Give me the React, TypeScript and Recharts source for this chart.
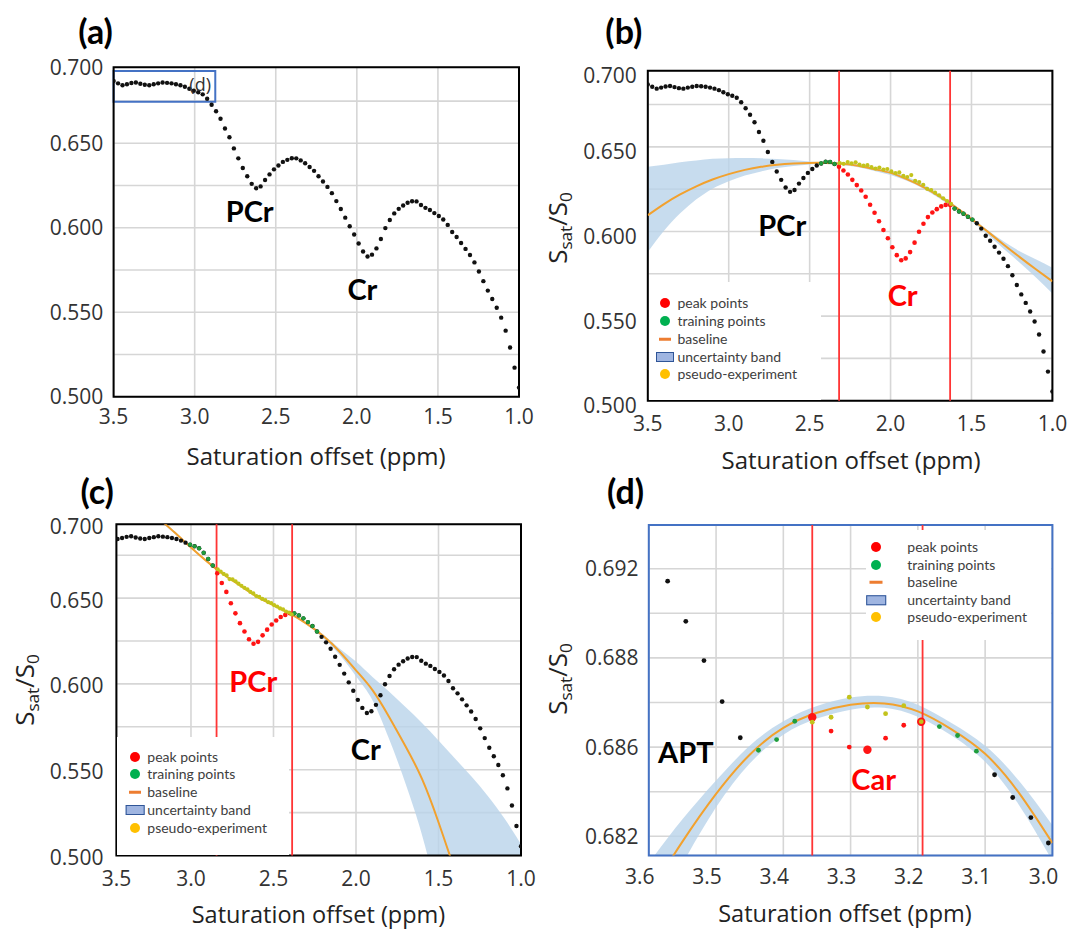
import React from 'react';
import {
  ComposedChart,
  Scatter,
  Line,
  Area,
  XAxis,
  YAxis,
  CartesianGrid,
  ReferenceLine,
  ReferenceArea,
} from 'recharts';

// ======================= DATA =======================
// measured spectrum: offsets evenly spaced from 3.5 ppm down to 1.0 ppm
const OFFSET_FIRST = 3.5;
const OFFSET_LAST = 1.0;
// normalised signal S_sat/S_0 (black dots), one value per offset
const SIGNAL = [
  0.6869, 0.6855, 0.6844, 0.685, 0.6857, 0.686, 0.6853, 0.6847, 0.6844, 0.685,
  0.6855, 0.686, 0.6858, 0.6855, 0.685, 0.6844, 0.6835, 0.6823, 0.6811, 0.6802,
  0.679, 0.6764, 0.6728, 0.669, 0.6645, 0.6588, 0.6536, 0.647, 0.6411, 0.6354,
  0.6305, 0.626, 0.6234, 0.6245, 0.6283, 0.6316, 0.6346, 0.6369, 0.639, 0.6402,
  0.6412, 0.6411, 0.6399, 0.6382, 0.636, 0.6337, 0.6305, 0.6274, 0.6242, 0.6205,
  0.6158, 0.6111, 0.606, 0.6009, 0.596, 0.5907, 0.586, 0.583, 0.5841, 0.5878,
  0.5934, 0.5998, 0.6046, 0.6085, 0.6112, 0.6132, 0.6148, 0.6157, 0.6156, 0.6135,
  0.6118, 0.6105, 0.6087, 0.607, 0.6049, 0.6017, 0.5975, 0.5945, 0.591, 0.5875,
  0.5839, 0.5795, 0.5741, 0.5684, 0.5628, 0.5578, 0.5527, 0.5468, 0.5391, 0.5291,
  0.5172, 0.5054,
];

const X_TICKS = [3.5, 3.0, 2.5, 2.0, 1.5, 1.0];
const X_TICKS_C = [3.452, 3.0, 2.5, 2.0, 1.5, 1.0];
const X_TICK_LABELS = ['3.5', '3.0', '2.5', '2.0', '1.5', '1.0'];
const Y_TICKS_AB = [0.5, 0.525, 0.55, 0.575, 0.6, 0.625, 0.65, 0.675, 0.695];
const Y_TICKS_C = [0.5, 0.525, 0.55, 0.575, 0.6, 0.625, 0.65, 0.675, 0.693];
const Y_TICK_LABELS = ['0.500', '', '0.550', '', '0.600', '', '0.650', '', '0.700'];

// panel (a): inset marking the zoomed region of panel (d)
const A_INSET = { x1: 3.5, x2: 2.873, y1: 0.6746, y2: 0.6928 };

// panel (b): Cr peak
const B_PEAK_RANGE = [43, 68];
const B_TRAIN_RANGES = [[39, 42], [69, 73]];
const B_PEAK_EDGES = [2.318, 1.632];
const B_FIT_X = [3.5, 3.4, 3.3, 3.2, 3.1, 3.0, 2.9, 2.8, 2.7, 2.6, 2.5, 2.4, 2.3, 2.2, 2.1, 2.0, 1.9, 1.8, 1.7, 1.6, 1.5, 1.4, 1.3, 1.2, 1.1, 1.0];
const B_FIT = [0.6096, 0.6162, 0.6219, 0.6267, 0.6307, 0.6339, 0.6364, 0.6382, 0.6394, 0.6401, 0.6405, 0.6405, 0.64, 0.6388, 0.6368, 0.6346, 0.6309, 0.6264, 0.6209, 0.6145, 0.6074, 0.5999, 0.5922, 0.5847, 0.5775, 0.5705];
const B_BAND_LO = [0.5878, 0.6004, 0.6107, 0.619, 0.6253, 0.6297, 0.6331, 0.6355, 0.6375, 0.6387, 0.6396, 0.6398, 0.6392, 0.638, 0.6358, 0.6334, 0.6299, 0.6254, 0.6196, 0.6131, 0.606, 0.598, 0.5897, 0.5814, 0.5726, 0.5634];
const B_BAND_HI = [0.6382, 0.6394, 0.6409, 0.6419, 0.6429, 0.6433, 0.6434, 0.6432, 0.6428, 0.6422, 0.6414, 0.641, 0.6407, 0.6397, 0.6378, 0.6357, 0.6324, 0.6281, 0.6222, 0.6154, 0.6081, 0.6009, 0.5941, 0.5882, 0.5834, 0.5785];
const B_PSEUDO_X = [2.314, 2.29, 2.265, 2.241, 2.216, 2.192, 2.167, 2.143, 2.118, 2.093, 2.069, 2.044, 2.02, 1.995, 1.97, 1.946, 1.921, 1.897, 1.872, 1.848, 1.823, 1.798, 1.774, 1.749, 1.725, 1.7, 1.675, 1.651, 1.626];
const B_PSEUDO = [0.6404, 0.64, 0.641, 0.6402, 0.6409, 0.6395, 0.6389, 0.6392, 0.638, 0.6372, 0.6378, 0.6366, 0.6369, 0.6355, 0.6345, 0.6349, 0.6328, 0.6322, 0.6333, 0.6299, 0.6292, 0.6276, 0.6252, 0.6245, 0.6229, 0.6214, 0.6196, 0.618, 0.6163];

// panel (c): PCr peak
const C_PEAK_RANGE = [24, 40];
const C_TRAIN_RANGES = [[18, 23], [41, 46]];
const C_PEAK_EDGES = [2.845, 2.387];
const C_FIT_X = [3.3, 3.2, 3.1, 3.0, 2.9, 2.8, 2.7, 2.6, 2.5, 2.4, 2.3, 2.2, 2.1, 2.0, 1.9, 1.8, 1.7, 1.6, 1.5, 1.4];
const C_FIT = [0.7055, 0.6968, 0.6883, 0.6795, 0.6711, 0.6636, 0.6572, 0.6508, 0.6458, 0.6409, 0.6351, 0.628, 0.6189, 0.6079, 0.5964, 0.5809, 0.5637, 0.5446, 0.5194, 0.491];
const C_BAND_X = [3.3, 3.2, 3.1, 3.0, 2.9, 2.8, 2.7, 2.6, 2.5, 2.4, 2.3, 2.2, 2.1, 2.0, 1.9, 1.8, 1.7, 1.6, 1.5, 1.4, 1.3, 1.2, 1.1, 1.0];
const C_BAND_LO = [0.7045, 0.696, 0.6876, 0.6789, 0.6706, 0.6631, 0.6567, 0.6503, 0.6453, 0.6404, 0.6344, 0.6268, 0.617, 0.6045, 0.5905, 0.568, 0.542, 0.512, 0.474, 0.43, 0.38, 0.33, 0.28, 0.23];
const C_BAND_HI = [0.7065, 0.6976, 0.689, 0.6801, 0.6716, 0.6641, 0.6577, 0.6513, 0.6463, 0.6414, 0.6357, 0.629, 0.6206, 0.613, 0.604, 0.5955, 0.5865, 0.5772, 0.567, 0.5565, 0.546, 0.5345, 0.5215, 0.5065];
const C_PSEUDO_X = [2.838, 2.82, 2.802, 2.784, 2.766, 2.748, 2.73, 2.712, 2.694, 2.676, 2.658, 2.64, 2.622, 2.604, 2.586, 2.568, 2.55, 2.532, 2.514, 2.496, 2.478, 2.46, 2.442, 2.424, 2.406, 2.39];
const C_PSEUDO = [0.6668, 0.6655, 0.6641, 0.6632, 0.6611, 0.6609, 0.6598, 0.6584, 0.6572, 0.656, 0.6551, 0.6536, 0.6527, 0.6512, 0.6507, 0.6495, 0.6489, 0.6476, 0.6471, 0.6459, 0.6451, 0.644, 0.6434, 0.6422, 0.6416, 0.6405];

// panel (d): Car peak (zoom)
const D_OFFSETS = [3.572, 3.545, 3.518, 3.491, 3.464, 3.437, 3.41, 3.383, 3.357, 3.329, 3.302, 3.275, 3.248, 3.221, 3.195, 3.168, 3.141, 3.113, 3.086, 3.059, 3.032, 3.006];
const D_SIGNAL = [0.68972, 0.68882, 0.68794, 0.68702, 0.68621, 0.68593, 0.68617, 0.68658, 0.68667, 0.68636, 0.686, 0.68594, 0.6862, 0.68649, 0.68657, 0.68646, 0.68626, 0.68591, 0.68538, 0.68487, 0.68442, 0.68385];
const D_PEAK_RANGE = [8, 14];
const D_PEAK_BIG = [8, 11, 14];
const D_TRAIN_RANGES = [[5, 7], [15, 17]];
const D_PEAK_EDGES = [3.357, 3.193];
const D_PSEUDO_X = [3.357, 3.329, 3.302, 3.275, 3.248, 3.221, 3.195];
const D_PSEUDO = [0.68656, 0.68667, 0.68712, 0.6869, 0.68675, 0.68693, 0.68657];
const D_FIT_X = [3.6, 3.55, 3.5, 3.45, 3.4, 3.35, 3.3, 3.25, 3.2, 3.15, 3.1, 3.05, 3.0];
const D_FIT = [0.6827, 0.68388, 0.68495, 0.68583, 0.68643, 0.68677, 0.68695, 0.68698, 0.6868, 0.6864, 0.68585, 0.68498, 0.68385];
const D_BAND_LO = [0.682, 0.68338, 0.68465, 0.68563, 0.68628, 0.68664, 0.68684, 0.68688, 0.68668, 0.68626, 0.68567, 0.68471, 0.68345];
const D_BAND_HI = [0.6834, 0.68438, 0.68525, 0.68603, 0.68658, 0.68692, 0.68711, 0.68714, 0.68695, 0.68654, 0.68603, 0.68525, 0.68425];
const D_X_TICKS = [3.6, 3.5, 3.4, 3.3, 3.2, 3.1, 3.0];
const D_X_LABELS = ['3.6', '3.5', '3.4', '3.3', '3.2', '3.1', '3.0'];
const D_Y_TICKS = [0.684, 0.685, 0.686, 0.687, 0.688, 0.689, 0.69];
const D_Y_LABELS = ['0.682', '', '0.686', '', '0.688', '', '0.692'];

const LEGEND_LABELS = ['peak points', 'training points', 'baseline', 'uncertainty band', 'pseudo-experiment'];

// ======================= STYLE =======================
const W = 1070;
const H = 932;
const YW = 100;
const XH = 40;
const TICK_FONT = "'Open Sans', 'DejaVu Sans', sans-serif";
const LABEL_FONT = "Lato, 'Open Sans', sans-serif";
const PEAK = '#ff1414';
const TRAIN = '#1f9e3c';
const PSEUDO = '#c3c31c';
const BASE = '#f2a12e';
const BAND = '#b9d3ea';
const EDGE = '#ff3535';
const GRID = '#d6d6d6';
const LEGEND_COLORS = ['#ff0000', '#00b050', '#ed7d31', '#9fb5e1', '#ffc000'];

// ======================= HELPERS =======================
const N = SIGNAL.length;
const spectrum = SIGNAL.map((y, i) => ({ x: OFFSET_FIRST - (i * (OFFSET_FIRST - OFFSET_LAST)) / (N - 1), y }));
const inR = (i: number, r: number[]) => i >= r[0] && i <= r[1];
const inAny = (i: number, rs: number[][]) => rs.some((r) => inR(i, r));
const zip = (xs: number[], ys: number[]) => xs.map((x, i) => ({ x, y: ys[i] }));
const fitRows = (xs: number[], ys: number[] | null, lo: number[], hi: number[]) =>
  xs.map((x, i) => ({ x, y: ys ? ys[i] : null, band: [lo[i], hi[i]] }));

const aAll = spectrum;
const bBlack = spectrum.filter((_, i) => !inR(i, B_PEAK_RANGE));
const bRed = spectrum.filter((_, i) => inR(i, B_PEAK_RANGE));
const bTrain = spectrum.filter((_, i) => inAny(i, B_TRAIN_RANGES));
const bFit = fitRows(B_FIT_X, B_FIT, B_BAND_LO, B_BAND_HI);
const bPseudo = zip(B_PSEUDO_X, B_PSEUDO);

const cBlack = spectrum.filter((_, i) => !inR(i, C_PEAK_RANGE));
const cRed = spectrum.filter((_, i) => inR(i, C_PEAK_RANGE));
const cTrain = spectrum.filter((_, i) => inAny(i, C_TRAIN_RANGES));
const cFit = zip(C_FIT_X, C_FIT);
const cBand = fitRows(C_BAND_X, null, C_BAND_LO, C_BAND_HI);
const cPseudo = zip(C_PSEUDO_X, C_PSEUDO);

const dPts = zip(D_OFFSETS, D_SIGNAL);
const dBlack = dPts.filter((_, i) => !inR(i, D_PEAK_RANGE) && !inAny(i, D_TRAIN_RANGES));
const dTrain = dPts.filter((_, i) => inAny(i, D_TRAIN_RANGES));
const dRedSmall = dPts.filter((_, i) => inR(i, D_PEAK_RANGE) && !D_PEAK_BIG.includes(i));
const dRedBig = dPts.filter((_, i) => D_PEAK_BIG.includes(i));
const dFit = fitRows(D_FIT_X, D_FIT, D_BAND_LO, D_BAND_HI);
const dPseudo = zip(D_PSEUDO_X, D_PSEUDO);

const dot = (r: number, fill: string) => (p: any) =>
  p.cx == null || p.cy == null ? <g /> : <circle cx={p.cx} cy={p.cy} r={r} fill={fill} />;

const labelOf = (ticks: number[], labels: string[], v: number) => {
  const i = ticks.findIndex((t) => Math.abs(t - v) < 1e-7);
  return i >= 0 ? labels[i] : '';
};

const makeXTick = (ticks: number[], labels: string[], dx: number) => (p: any) => (
  <text x={p.x + dx} y={p.y} dy="0.71em" textAnchor="middle" fontFamily={TICK_FONT} fontSize={21} fill="#333">
    {labelOf(ticks, labels, p.payload.value)}
  </text>
);
const makeYTick = (ticks: number[], labels: string[], dy: number) => (p: any) => (
  <text x={p.x} y={p.y + dy} dy="0.36em" textAnchor="end" fontFamily={TICK_FONT} fontSize={21} fill="#333">
    {labelOf(ticks, labels, p.payload.value)}
  </text>
);

type Box = { l: number; r: number; t: number; b: number };

function Panel(props: {
  box: Box;
  xDomain: [number, number];
  yDomain: [number, number];
  xTicks: number[];
  xLabels: string[];
  yTicks: number[];
  yLabels: string[];
  xMargin: number;
  yMargin: number;
  xDx?: number;
  yDy?: number;
  frame: string;
  children: React.ReactNode;
}) {
  const { box, xDomain, yDomain, xTicks, xLabels, yTicks, yLabels, xMargin, yMargin, xDx = 0, yDy = 0, frame, children } = props;
  const margin = { left: box.l - YW, right: W - box.r, top: box.t, bottom: H - box.b - XH };
  return (
    <div style={{ position: 'absolute', left: 0, top: 0 }}>
      <ComposedChart width={W} height={H} margin={margin}>
        <CartesianGrid stroke={GRID} strokeWidth={1.6} />
        <XAxis
          type="number"
          dataKey="x"
          domain={xDomain}
          reversed
          ticks={xTicks}
          interval={0}
          allowDataOverflow
          axisLine={false}
          tickLine={false}
          tickSize={6}
          tickMargin={xMargin}
          height={XH}
          tick={makeXTick(xTicks, xLabels, xDx)}
        />
        <YAxis
          type="number"
          dataKey="y"
          domain={yDomain}
          ticks={yTicks}
          interval={0}
          allowDataOverflow
          axisLine={false}
          tickLine={false}
          tickSize={6}
          tickMargin={yMargin}
          width={YW}
          tick={makeYTick(yTicks, yLabels, yDy)}
        />
        {children}
        <ReferenceArea
          x1={xDomain[0]}
          x2={xDomain[1]}
          y1={yDomain[0]}
          y2={yDomain[1]}
          fill="#ffffff"
          fillOpacity={0}
          stroke={frame}
          strokeWidth={2}
          ifOverflow="visible"
        />
      </ComposedChart>
    </div>
  );
}

function Txt(p: { x: number; y: number; size: number; bold?: boolean; color?: string; font?: string; rotate?: boolean; children: React.ReactNode }) {
  return (
    <div
      style={{
        position: 'absolute',
        left: p.x,
        top: p.y,
        transform: `translate(-50%, -50%)${p.rotate ? ' rotate(-90deg)' : ''}`,
        fontSize: p.size,
        fontWeight: p.bold ? 700 : 400,
        color: p.color || '#000',
        fontFamily: p.font || LABEL_FONT,
        lineHeight: 1,
        whiteSpace: 'nowrap',
      }}
    >
      {p.children}
    </div>
  );
}

const SsatLabel = ({ x, y }: { x: number; y: number }) => (
  <Txt x={x} y={y} size={26} font={TICK_FONT} color="#222" rotate>
    S<span style={{ fontSize: '0.66em', verticalAlign: '-0.28em' }}>sat</span>/S
    <span style={{ fontSize: '0.66em', verticalAlign: '-0.28em' }}>0</span>
  </Txt>
);

type LegendSpec = { left: number; top: number; width: number; height: number; iconX: number; textX: number; rows: number[]; rectW: number; rectH: number; lineW: number };

function Legend({ s }: { s: LegendSpec }) {
  return (
    <div style={{ position: 'absolute', left: s.left, top: s.top, width: s.width, height: s.height, background: '#fff' }}>
      {LEGEND_LABELS.map((lab, i) => {
        const cx = s.iconX - s.left;
        const cy = s.rows[i] - s.top;
        const base: React.CSSProperties = { position: 'absolute', left: cx, top: cy, transform: 'translate(-50%, -50%)' };
        let icon;
        if (i === 2) icon = <div style={{ ...base, width: s.lineW, height: 2.5, background: LEGEND_COLORS[2] }} />;
        else if (i === 3)
          icon = (
            <div
              style={{ ...base, width: s.rectW, height: s.rectH, background: LEGEND_COLORS[3], border: '1.5px solid #2f5597', boxSizing: 'border-box' }}
            />
          );
        else icon = <div style={{ ...base, width: 10, height: 10, borderRadius: '50%', background: LEGEND_COLORS[i] }} />;
        return (
          <React.Fragment key={lab}>
            {icon}
            <div
              style={{
                position: 'absolute',
                left: s.textX - s.left,
                top: cy,
                transform: 'translateY(-50%)',
                fontFamily: LABEL_FONT,
                fontSize: 14,
                color: '#404040',
                lineHeight: 1,
                whiteSpace: 'nowrap',
              }}
            >
              {lab}
            </div>
          </React.Fragment>
        );
      })}
    </div>
  );
}

const BOX_A: Box = { l: 113.6, r: 519, t: 67.3, b: 396.7 };
const BOX_B: Box = { l: 647.8, r: 1052.4, t: 70.7, b: 400.7 };
const BOX_C: Box = { l: 116.4, r: 521, t: 524.3, b: 855.5 };
const BOX_D: Box = { l: 648.8, r: 1052.4, t: 525, b: 855.5 };

export default function App() {
  return (
    <div style={{ position: 'absolute', left: 0, top: 0, width: W, height: H, background: '#fff', overflow: 'hidden' }}>
      {/* (a) */}
      <Panel box={BOX_A} xDomain={[1, 3.5]} yDomain={[0.5, 0.695]} xTicks={X_TICKS} xLabels={X_TICK_LABELS} yTicks={Y_TICKS_AB} yLabels={Y_TICK_LABELS} xMargin={6.5} yMargin={4.3} frame="#000">
        <Scatter data={aAll} shape={dot(2.2, '#111')} isAnimationActive={false} />
        <ReferenceArea x1={A_INSET.x1} x2={A_INSET.x2} y1={A_INSET.y1} y2={A_INSET.y2} fill="#fff" fillOpacity={0} stroke="#4472c4" strokeWidth={2} ifOverflow="visible" />
      </Panel>

      {/* (b) */}
      <Panel box={BOX_B} xDomain={[1, 3.5]} yDomain={[0.5, 0.695]} xTicks={X_TICKS} xLabels={X_TICK_LABELS} yTicks={Y_TICKS_AB} yLabels={Y_TICK_LABELS} xMargin={9} yMargin={5} yDy={5} frame="#000">
        <Area data={bFit} dataKey="band" type="natural" stroke="none" fill={BAND} fillOpacity={0.8} dot={false} activeDot={false} isAnimationActive={false} />
        <Line data={bFit} dataKey="y" type="natural" stroke={BASE} strokeWidth={2} dot={false} activeDot={false} isAnimationActive={false} />
        <ReferenceLine x={B_PEAK_EDGES[0]} stroke={EDGE} strokeWidth={1.8} />
        <ReferenceLine x={B_PEAK_EDGES[1]} stroke={EDGE} strokeWidth={1.8} />
        <Scatter data={bBlack} shape={dot(2.2, '#111')} isAnimationActive={false} />
        <Scatter data={bRed} shape={dot(2.3, PEAK)} isAnimationActive={false} />
        <Scatter data={bTrain} shape={dot(2.1, TRAIN)} isAnimationActive={false} />
        <Scatter data={bPseudo} shape={dot(2.1, PSEUDO)} isAnimationActive={false} />
      </Panel>

      {/* (c) */}
      <Panel box={BOX_C} xDomain={[1, 3.452]} yDomain={[0.5, 0.693]} xTicks={X_TICKS_C} xLabels={X_TICK_LABELS} yTicks={Y_TICKS_C} yLabels={Y_TICK_LABELS} xMargin={9.3} yMargin={7} yDy={2} frame="#000">
        <Area data={cBand} dataKey="band" type="monotone" stroke="none" fill={BAND} fillOpacity={0.8} dot={false} activeDot={false} isAnimationActive={false} />
        <Line data={cFit} dataKey="y" type="natural" stroke={BASE} strokeWidth={2} dot={false} activeDot={false} isAnimationActive={false} />
        <ReferenceLine x={C_PEAK_EDGES[0]} stroke={EDGE} strokeWidth={1.8} />
        <ReferenceLine x={C_PEAK_EDGES[1]} stroke={EDGE} strokeWidth={1.8} />
        <Scatter data={cBlack} shape={dot(2.2, '#111')} isAnimationActive={false} />
        <Scatter data={cRed} shape={dot(2.3, PEAK)} isAnimationActive={false} />
        <Scatter data={cTrain} shape={dot(2.1, TRAIN)} isAnimationActive={false} />
        <Scatter data={cPseudo} shape={dot(2.1, PSEUDO)} isAnimationActive={false} />
      </Panel>

      {/* (d) */}
      <Panel box={BOX_D} xDomain={[3.0, 3.6]} yDomain={[0.68357, 0.69098]} xTicks={D_X_TICKS} xLabels={D_X_LABELS} yTicks={D_Y_TICKS} yLabels={D_Y_LABELS} xMargin={7.7} yMargin={4.3} xDx={-9} frame="#4472c4">
        <Area data={dFit} dataKey="band" type="natural" stroke="none" fill={BAND} fillOpacity={0.8} dot={false} activeDot={false} isAnimationActive={false} />
        <Line data={dFit} dataKey="y" type="natural" stroke={BASE} strokeWidth={2} dot={false} activeDot={false} isAnimationActive={false} />
        <ReferenceLine x={D_PEAK_EDGES[0]} stroke={EDGE} strokeWidth={1.8} />
        <ReferenceLine x={D_PEAK_EDGES[1]} stroke={EDGE} strokeWidth={1.8} />
        <Scatter data={dBlack} shape={dot(2.4, '#111')} isAnimationActive={false} />
        <Scatter data={dTrain} shape={dot(2.4, TRAIN)} isAnimationActive={false} />
        <Scatter data={dRedSmall} shape={dot(2.4, PEAK)} isAnimationActive={false} />
        <Scatter data={dRedBig} shape={dot(4.2, PEAK)} isAnimationActive={false} />
        <Scatter data={dPseudo} shape={dot(2.4, PSEUDO)} isAnimationActive={false} />
      </Panel>

      {/* legends */}
      <Legend s={{ left: 649, top: 282, width: 172, height: 117.7, iconX: 665, textX: 677.4, rows: [303.3, 321, 339, 356.7, 374.3], rectW: 18, rectH: 10, lineW: 12 }} />
      <Legend s={{ left: 117.4, top: 737, width: 171.6, height: 117.5, iconX: 135, textX: 147.3, rows: [756.7, 774.3, 792.3, 810, 827.7], rectW: 18.7, rectH: 10, lineW: 12 }} />
      <Legend s={{ left: 866, top: 530, width: 185, height: 110, iconX: 876, textX: 907.3, rows: [546.7, 565, 582.3, 600, 617.3], rectW: 19.6, rectH: 9.5, lineW: 13 }} />

      {/* panel titles */}
      <Txt x={95.6} y={30.8} size={34} bold>(a)</Txt>
      <Txt x={623.8} y={30.5} size={34} bold>(b)</Txt>
      <Txt x={97.2} y={490.8} size={34} bold>(c)</Txt>
      <Txt x={625.5} y={490.8} size={34} bold>(d)</Txt>

      {/* axis titles */}
      <Txt x={316} y={455.5} size={24} font={TICK_FONT} color="#222">Saturation offset (ppm)</Txt>
      <Txt x={851} y={460} size={24} font={TICK_FONT} color="#222">Saturation offset (ppm)</Txt>
      <Txt x={318.5} y={915} size={23.5} font={TICK_FONT} color="#222">Saturation offset (ppm)</Txt>
      <Txt x={845} y={913.5} size={23.5} font={TICK_FONT} color="#222">Saturation offset (ppm)</Txt>
      <SsatLabel x={559} y={228} />
      <SsatLabel x={26} y={690} />
      <SsatLabel x={559} y={679} />

      {/* annotations */}
      <Txt x={200.2} y={84.2} size={18} font={TICK_FONT} color="#333">(d)</Txt>
      <Txt x={249.7} y={210} size={29} bold>PCr</Txt>
      <Txt x={362.4} y={288.3} size={29} bold>Cr</Txt>
      <Txt x={782.3} y={224.2} size={29} bold>PCr</Txt>
      <Txt x={902.7} y={294.2} size={29} bold color="#ff0000">Cr</Txt>
      <Txt x={253.3} y={680} size={29} bold color="#ff0000">PCr</Txt>
      <Txt x={365.8} y={748.3} size={29} bold>Cr</Txt>
      <Txt x={685.8} y={750.8} size={29} bold>APT</Txt>
      <Txt x={873.7} y={778.3} size={29} bold color="#ff0000">Car</Txt>
    </div>
  );
}
